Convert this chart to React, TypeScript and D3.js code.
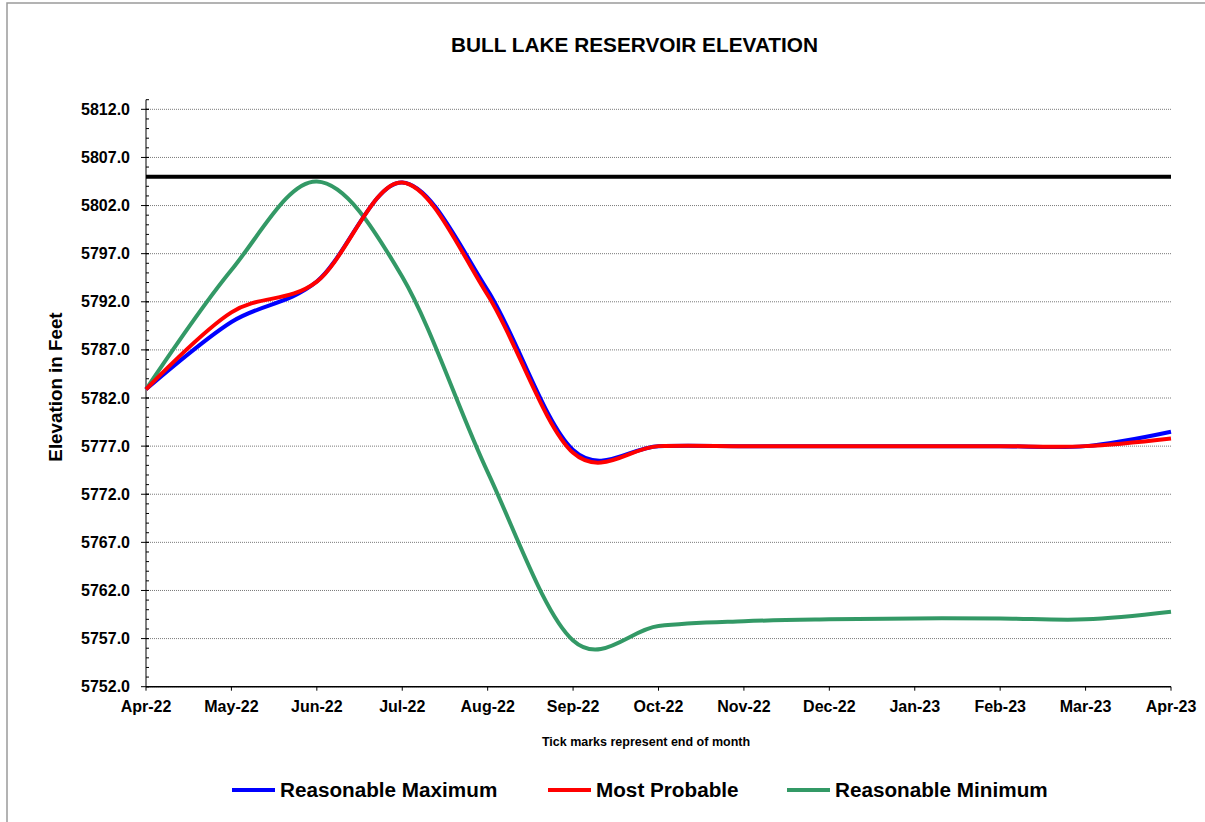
import React from "react";
import * as d3 from "d3";

const months = ["Apr-22","May-22","Jun-22","Jul-22","Aug-22","Sep-22","Oct-22","Nov-22","Dec-22","Jan-23","Feb-23","Mar-23","Apr-23"];
const reasonableMax = [5782.9, 5789.9, 5794.1, 5804.4, 5793.2, 5776.6, 5777.0, 5777.0, 5777.0, 5777.0, 5777.0, 5777.0, 5778.5];
const mostProbable = [5782.9, 5790.9, 5794.1, 5804.4, 5792.7, 5776.3, 5777.0, 5777.0, 5777.0, 5777.0, 5777.0, 5777.0, 5777.8];
const reasonableMin = [5782.9, 5795.3, 5804.5, 5794.6, 5774.3, 5756.8, 5758.3, 5758.8, 5759.0, 5759.1, 5759.1, 5759.0, 5759.8];
const referenceElevation = 5805.0;
const yTicks = [5752, 5757, 5762, 5767, 5772, 5777, 5782, 5787, 5792, 5797, 5802, 5807, 5812];
const yDomain = [5752, 5813];

const series = [
  { name: "Reasonable Minimum", values: reasonableMin, color: "#339966" },
  { name: "Reasonable Maximum", values: reasonableMax, color: "#0000FF" },
  { name: "Most Probable", values: mostProbable, color: "#FF0000" },
];
const legendItems = [
  { name: "Reasonable Maximum", color: "#0000FF", x: 232 },
  { name: "Most Probable", color: "#FF0000", x: 548 },
  { name: "Reasonable Minimum", color: "#339966", x: 787 },
];

const FONT = "'Liberation Sans', Arial, sans-serif";

export default function App() {
  const left = 146, right = 1171, top = 99.7, bottom = 686.7;
  const x = d3.scaleLinear().domain([0, months.length - 1]).range([left, right]);
  const y = d3.scaleLinear().domain(yDomain).range([bottom, top]);
  const line = d3
    .line<number>()
    .x((_, i) => x(i))
    .y((d) => y(d))
    .curve(d3.curveCardinal.tension(0));
  const minorTicks = d3.range(yDomain[0], yDomain[1] + 0.001, 1);

  return (
    <div style={{ position: "fixed", left: 0, top: 0, width: 1205, height: 822, background: "#fff" }}>
      <svg width={1205} height={822} style={{ display: "block" }} fontFamily={FONT}>
        <rect x={0} y={0} width={1205} height={822} fill="#fff" />
        <rect x={7} y={3} width={1250} height={900} fill="none" stroke="#9a9a9a" strokeWidth={1.5} />
        <text x={634.5} y={52} textAnchor="middle" fontSize={20.8} fontWeight="bold" fill="#000">
          BULL LAKE RESERVOIR ELEVATION
        </text>

        {/* gridlines */}
        {yTicks.map((t) => (
          <line key={"g" + t} x1={left} x2={right} y1={y(t)} y2={y(t)} stroke="#7a7a7a" strokeWidth={1} strokeDasharray="1,1" />
        ))}

        {/* y axis */}
        <line x1={left} x2={left} y1={top} y2={bottom} stroke="#000" strokeWidth={1} />
        {minorTicks.map((t) => (
          <line key={"m" + t} x1={left} x2={left + 3} y1={y(t)} y2={y(t)} stroke="#000" strokeWidth={1} />
        ))}
        {yTicks.map((t) => (
          <g key={"t" + t}>
            <line x1={left - 5} x2={left + 3} y1={y(t)} y2={y(t)} stroke="#000" strokeWidth={1} />
            <text x={130} y={y(t) + 5.5} textAnchor="end" fontSize={16} fontWeight="bold" fill="#000">
              {t.toFixed(1)}
            </text>
          </g>
        ))}
        <text transform="translate(62,387) rotate(-90)" textAnchor="middle" fontSize={18.8} fontWeight="bold" fill="#000">
          Elevation in Feet
        </text>

        {/* x axis */}
        <line x1={left} x2={right} y1={bottom} y2={bottom} stroke="#000" strokeWidth={1.5} />
        {months.map((m, i) => (
          <g key={m}>
            <line x1={x(i)} x2={x(i)} y1={bottom} y2={bottom + 4} stroke="#000" strokeWidth={1} />
            <text x={x(i)} y={712} textAnchor="middle" fontSize={16} fontWeight="bold" fill="#000">
              {m}
            </text>
          </g>
        ))}
        <text x={646} y={746} textAnchor="middle" fontSize={12.5} fontWeight="bold" fill="#000">
          Tick marks represent end of month
        </text>

        {/* reference line */}
        <line x1={left} x2={right} y1={y(referenceElevation)} y2={y(referenceElevation)} stroke="#000" strokeWidth={4} />

        {/* series */}
        {series.map((s) => (
          <path key={s.name} d={line(s.values) || ""} fill="none" stroke={s.color} strokeWidth={4} strokeLinejoin="round" />
        ))}

        {/* legend */}
        {legendItems.map((l) => (
          <g key={l.name}>
            <line x1={l.x} x2={l.x + 43} y1={790} y2={790} stroke={l.color} strokeWidth={4} />
            <text x={l.x + 48} y={797} fontSize={20.7} fontWeight="bold" fill="#000">
              {l.name}
            </text>
          </g>
        ))}
      </svg>
    </div>
  );
}
